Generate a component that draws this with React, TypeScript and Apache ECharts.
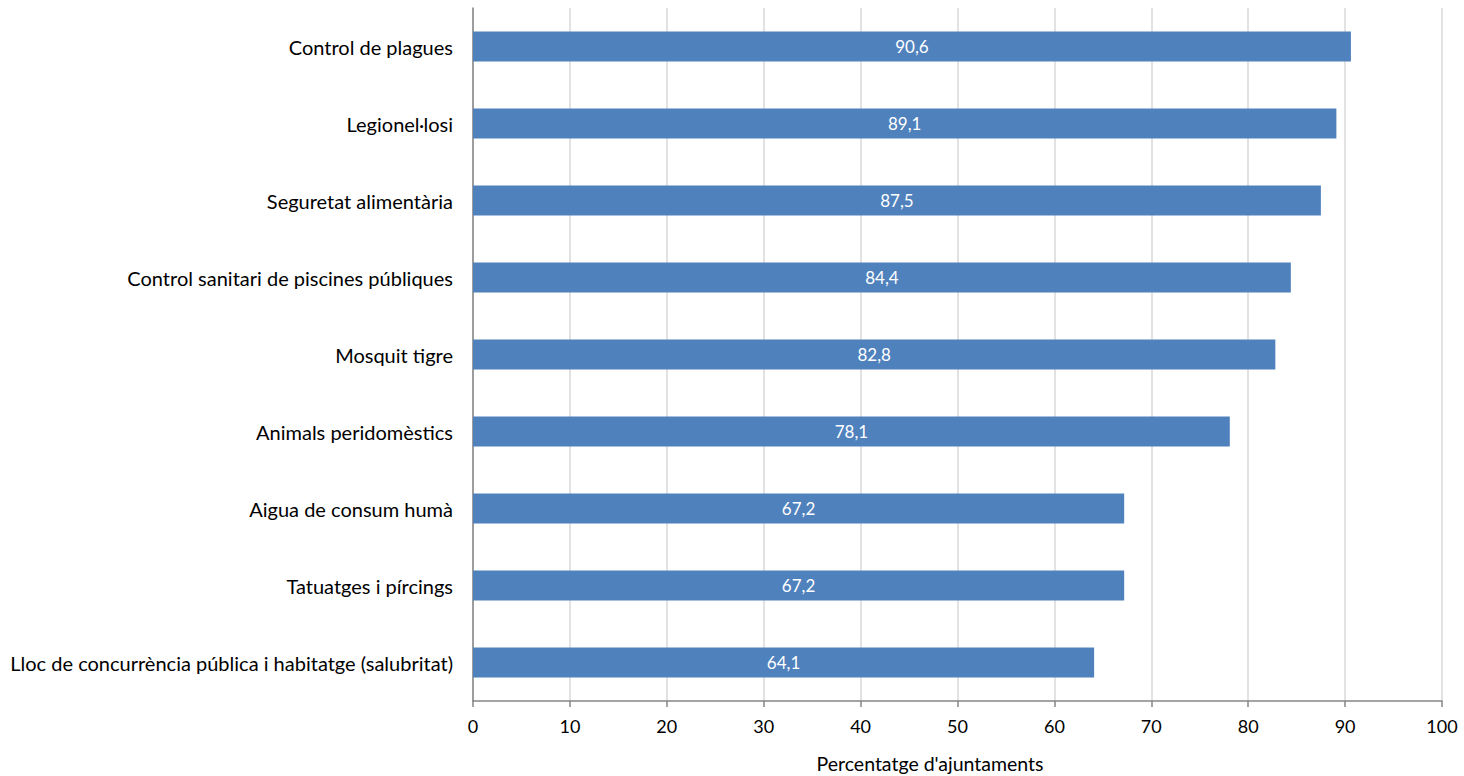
import React, { useEffect, useRef } from "react";
import * as echarts from "echarts";

const categories = [
  "Control de plagues",
  "Legionel·losi",
  "Seguretat alimentària",
  "Control sanitari de piscines públiques",
  "Mosquit tigre",
  "Animals peridomèstics",
  "Aigua de consum humà",
  "Tatuatges i pírcings",
  "Lloc de concurrència pública i habitatge (salubritat)",
];
const values = [90.6, 89.1, 87.5, 84.4, 82.8, 78.1, 67.2, 67.2, 64.1];
const axisTitle = "Percentatge d'ajuntaments";

const FONT = "Lato, 'Open Sans', sans-serif";

export default function App() {
  const ref = useRef<HTMLDivElement>(null);
  useEffect(() => {
    if (!ref.current) return;
    const chart = echarts.init(ref.current, undefined, { renderer: "svg" });
    chart.setOption({
      animation: false,
      textStyle: { fontFamily: FONT },
      grid: { left: 473, right: 22, top: 8, bottom: 75, containLabel: false },
      graphic: [
        {
          type: "text",
          x: 930,
          y: 763,
          style: {
            text: axisTitle,
            fontSize: 19.5,
            fontFamily: FONT,
            fill: "#000",
            textAlign: "center",
            textVerticalAlign: "middle",
          },
        },
      ],
      xAxis: {
        type: "value",
        min: 0,
        max: 100,
        interval: 10,
        axisLine: { show: true, lineStyle: { color: "#868686", width: 1.5 } },
        axisTick: { show: true, length: 6, lineStyle: { color: "#868686", width: 1.5 } },
        axisLabel: { fontSize: 18, color: "#000", margin: 16, fontFamily: FONT },
        splitLine: { show: true, lineStyle: { color: "#D9D9D9", width: 1.5 } },
      },
      yAxis: {
        type: "category",
        data: categories,
        inverse: true,
        axisLine: { show: true, lineStyle: { color: "#868686", width: 1.5 } },
        axisTick: { show: false },
        axisLabel: { fontSize: 20, color: "#000", margin: 20, fontFamily: FONT },
        splitLine: { show: false },
      },
      series: [
        {
          type: "bar",
          data: values,
          barWidth: 30,
          itemStyle: { color: "#4F81BD" },
          label: {
            show: true,
            position: "inside",
            color: "#fff",
            fontSize: 17,
            fontFamily: FONT,
            formatter: (p: any) => String(p.value).replace(".", ","),
          },
        },
      ],
    });
    return () => chart.dispose();
  }, []);
  return (
    <div
      ref={ref}
      style={{ position: "absolute", left: 0, top: 0, width: 1464, height: 776, background: "#fff" }}
    />
  );
}
